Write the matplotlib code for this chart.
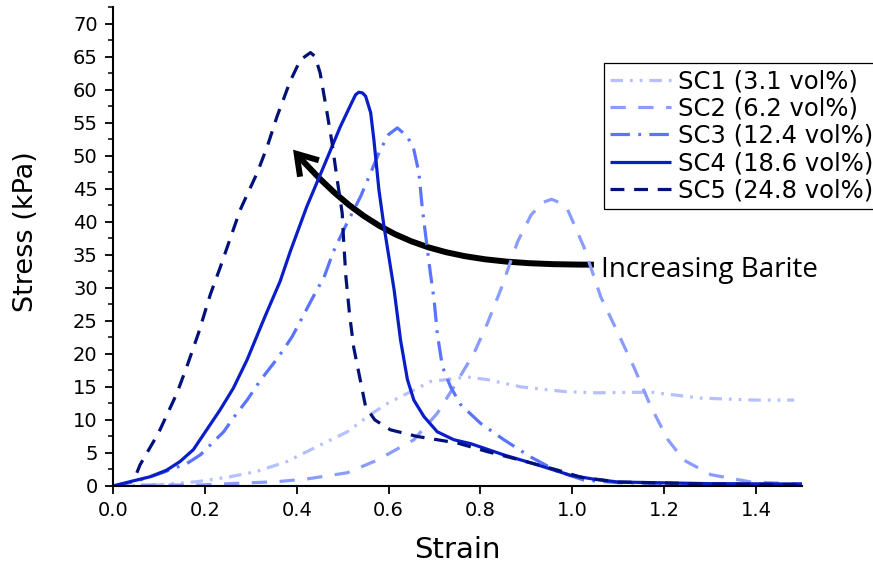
#!/usr/bin/env python
import numpy as np
import matplotlib
matplotlib.use('Agg')
import matplotlib.pyplot as plt
from matplotlib.path import Path
from matplotlib.patches import FancyArrowPatch
from matplotlib.ticker import MultipleLocator,FormatStrFormatter

# Data (strain, stress in kPa)
sc1_x = [0.0,0.095,0.183,0.255,0.313,0.379,0.422,0.51,0.56,0.60,0.626,0.691,0.771,0.815,0.888,0.982,1.05,1.171,1.28,1.40,1.483]
sc1_y = [0.0,0.15,0.65,1.4,2.2,3.7,5.2,8.2,10.8,12.6,13.5,15.8,16.5,16.1,15.0,14.3,14.1,14.2,13.3,13.0,13.0]
sc2_x = [0.0,0.08,0.19,0.27,0.357,0.422,0.51,0.575,0.655,0.706,0.742,0.786,0.815,0.844,0.881,0.91,0.935,0.955,0.975,0.99,1.025,1.062,1.099,1.134,1.171,1.208,1.243,1.302,1.389,1.5]
sc2_y = [0.0,0.15,0.15,0.4,0.65,1.06,2.0,3.9,7.0,11.0,15.0,20.1,24.6,29.7,37.0,41.0,42.9,43.4,42.8,41.8,36.2,28.6,23.2,18.0,12.0,7.0,3.9,1.7,0.6,0.3]
sc3_x = [0.0,0.05,0.103,0.161,0.19,0.219,0.241,0.262,0.292,0.321,0.35,0.371,0.39,0.444,0.459,0.48,0.506,0.539,0.561,0.582,0.60,0.619,0.641,0.655,0.666,0.673,0.68,0.691,0.699,0.706,0.717,0.735,0.757,0.80,0.851,0.909,0.968,1.025,1.1,1.3,1.5]
sc3_y = [0.0,0.7,1.9,3.4,4.7,6.7,8.2,10.3,13.0,16.0,18.6,20.6,22.6,29.7,31.5,35.5,39.3,43.8,47.4,50.9,53.2,54.2,52.9,50.9,47.4,42.3,38.3,32.2,28.2,23.1,18.1,15.0,12.3,9.5,7.0,4.4,2.2,0.9,0.5,0.3,0.2]
sc4_x = [0.0,0.037,0.081,0.117,0.146,0.175,0.204,0.233,0.262,0.292,0.33,0.364,0.386,0.422,0.459,0.495,0.521,0.528,0.535,0.543,0.55,0.561,0.568,0.579,0.59,0.604,0.612,0.626,0.641,0.655,0.677,0.706,0.742,0.779,0.851,0.924,0.997,1.05,1.1,1.3,1.5]
sc4_y = [0.0,0.65,1.4,2.4,3.7,5.5,8.5,11.5,14.8,19.1,25.5,31.0,35.5,42.3,48.4,54.4,58.2,59.2,59.6,59.5,59.0,56.5,52.4,44.8,39.3,33.2,29.7,22.1,16.1,13.0,10.5,8.2,7.0,6.4,4.7,3.2,1.6,1.0,0.6,0.35,0.3]
sc5_x = [0.052,0.059,0.073,0.099,0.139,0.161,0.186,0.212,0.233,0.277,0.314,0.336,0.357,0.386,0.408,0.43,0.44,0.451,0.466,0.477,0.488,0.499,0.502,0.507,0.515,0.524,0.55,0.57,0.604,0.662,0.75,0.815,0.888,0.968,1.02,1.1,1.3,1.5]
sc5_y = [2.0,3.2,4.9,8.0,14.0,18.1,23.1,29.0,33.0,41.8,47.4,51.4,55.9,61.3,64.5,65.6,65.0,62.5,56.5,51.9,46.4,41.3,37.3,31.7,26.0,21.0,12.0,10.0,8.5,7.5,6.5,5.2,3.9,2.4,1.3,0.6,0.3,0.2]
labels = ['SC1 (3.1 vol%)','SC2 (6.2 vol%)','SC3 (12.4 vol%)','SC4 (18.6 vol%)','SC5 (24.8 vol%)']

colors = ['#b4c0ff','#8a9cff','#5a74ff','#0a1ec8','#00127a']
dashes = [(9,5,2,5,2,5),(11,9),(14,6,2,6),None,(10,7)]

# Curved arrow (data coords): tail, two control points, head
ARROW_PTS = [(1.047,33.5),(0.72,33.5),(0.578,36.1),(0.392,50.9)]

plt.rcParams['lines.scale_dashes'] = False
fig = plt.figure(figsize=(8.73,5.68),dpi=100,facecolor='w')
ax1 = fig.add_axes([0.1294,0.1444,0.7893,0.8433])

xs = [sc1_x,sc2_x,sc3_x,sc4_x,sc5_x]
ys = [sc1_y,sc2_y,sc3_y,sc4_y,sc5_y]
for i in range(5):
    line, = ax1.plot(xs[i],ys[i],color=colors[i],lw=2.3,label=labels[i],solid_capstyle='butt',dash_capstyle='butt',solid_joinstyle='round')
    if dashes[i] is not None:
        line.set_dashes(dashes[i])

ax1.set_xlim(0.0,1.5)
ax1.set_ylim(0.0,72.5)
ax1.xaxis.set_major_locator(MultipleLocator(0.2))
ax1.yaxis.set_major_locator(MultipleLocator(5))
ax1.yaxis.set_minor_locator(MultipleLocator(2.5))
ax1.xaxis.set_major_formatter(FormatStrFormatter('%.1f'))
for s in ['top','right']:
    ax1.spines[s].set_visible(False)
for s in ['left','bottom']:
    ax1.spines[s].set_linewidth(1.5)
ax1.tick_params(axis='both',which='major',direction='out',length=6,width=1.3,labelsize=14,pad=5)
ax1.tick_params(axis='y',which='minor',direction='out',length=3.5,width=1.1)

ax1.set_xlabel('Strain',fontsize=21)
ax1.set_ylabel('Stress (kPa)',fontsize=19.5)
ax1.xaxis.label.set_va('center')
ax1.yaxis.label.set_va('center')
ax1.xaxis.set_label_coords(0.5,-0.133)
ax1.yaxis.set_label_coords(-0.126,0.53)

leg = ax1.legend(loc='upper left',bbox_to_anchor=(604/873.0,1-63/568.0),bbox_transform=fig.transFigure,
                 fontsize=17.5,handlelength=2.5,handletextpad=0.29,labelspacing=0.14,borderpad=0.25,
                 borderaxespad=0.0,fancybox=False,framealpha=1.0,edgecolor='k')
leg.get_frame().set_linewidth(0.9)

path = Path(ARROW_PTS,[Path.MOVETO,Path.CURVE4,Path.CURVE4,Path.CURVE4])
arrow = FancyArrowPatch(path=path,arrowstyle='->,head_length=0.7,head_width=0.45',mutation_scale=20,
                        lw=4.3,color='k',capstyle='butt',joinstyle='miter')
ax1.add_patch(arrow)
ax1.text(1.062,32.7,'Increasing Barite',fontsize=20,family=['Open Sans','DejaVu Sans'],ha='left',va='center',clip_on=False)

plt.savefig('out.png',dpi=100)
